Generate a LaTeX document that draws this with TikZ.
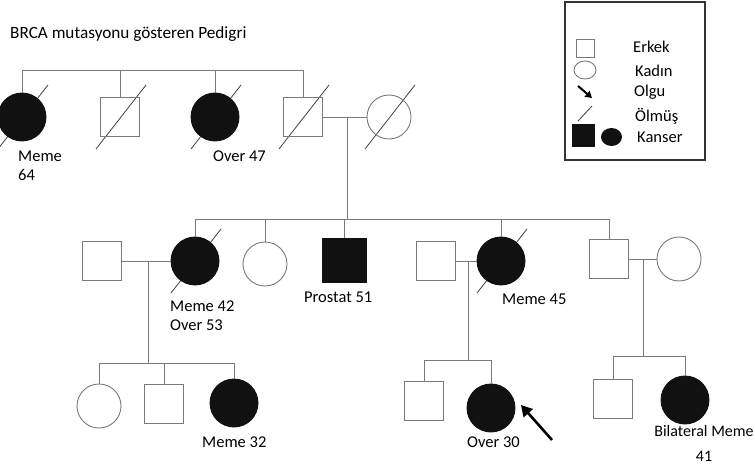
\documentclass[tikz,border=0pt]{standalone}
\usepackage{fontspec}
\setmainfont{Carlito}
\usetikzlibrary{arrows.meta,backgrounds,shapes.geometric}
\definecolor{lineg}{HTML}{7A7A7A}
\definecolor{fillk}{HTML}{111111}
\begin{document}
\begin{tikzpicture}[x=1pt,y=-1pt,
  male/.style={rectangle,draw=lineg,line width=0.9pt,minimum size=39pt,inner sep=0},
  female/.style={circle,draw=lineg,line width=0.9pt,minimum size=44pt,inner sep=0},
  affM/.style={male,fill=fillk,draw=fillk,minimum size=44pt},
  affF/.style={female,fill=fillk,draw=fillk,minimum size=48pt},
  conn/.style={draw=lineg,line width=0.9pt},
  dead/.style={draw=black!75,line width=0.8pt},
  lbl/.style={font=\fontsize{16.5}{19}\selectfont,inner sep=0,align=left},
]
\useasboundingbox (0,0) rectangle (755,468);
\newcommand\deadmark[1]{\draw[dead] ([shift={(-24,32)}]#1.center) -- ([shift={(26,-32)}]#1.center);}

% title
\node[lbl,anchor=west,font=\fontsize{17.2}{20}\selectfont] (title) at (10,34) {BRCA mutasyonu gösteren Pedigri};

% legend
\node[draw=black!80,line width=1.1pt,minimum width=140pt,minimum height=158pt,inner sep=0] (legend) at (635,81) {};
\node[male,minimum size=18pt] (lm) at (585,48) {};
\node[ellipse,draw=lineg,line width=0.9pt,minimum width=22pt,minimum height=18pt,inner sep=0] (lf) at (585,70) {};
\coordinate (laT) at (578,86);
\coordinate (laH) at (592,98);
\draw[line width=2pt,-{Triangle[length=6.5pt,width=7.5pt]}] (laT) -- (laH);
\coordinate (ld1) at (578,121);
\coordinate (ld2) at (592,106);
\draw[dead] (ld1) -- (ld2);
\node[rectangle,fill=fillk,minimum size=23pt,inner sep=0] (lam) at (583,136) {};
\node[ellipse,fill=fillk,minimum width=21pt,minimum height=18pt,inner sep=0] (laf) at (611.5,137) {};
\node[lbl,anchor=west] (t1) at (633,47) {Erkek};
\node[lbl,anchor=west] (t2) at (635,71) {Kadın};
\node[lbl,anchor=west] (t3) at (634,92) {Olgu};
\node[lbl,anchor=west] (t4) at (635,116) {Ölmüş};
\node[lbl,anchor=west] (t5) at (637,137) {Kanser};

% generation 1
\node[affF] (a1) at (22,117) {};
\node[male] (a2) at (120,117) {};
\node[affF] (a3) at (215,117) {};
\node[male] (a4) at (303,117) {};
\node[female] (a5) at (389,117) {};
\coordinate (s1) at (0,70);
\draw[conn] (a1.north) -- (a1.north |- s1) -- (a4.north |- s1) -- (a4.north);
\draw[conn] (a2.north) -- (a2.north |- s1);
\draw[conn] (a3.north) -- (a3.north |- s1);
\draw[conn] (a4.east) -- (a5.west);
\coordinate (m1) at (347,117);
\coordinate (s2) at (0,219);
\draw[conn] (m1) -- (m1 |- s2);

% generation 2
\node[male] (b1) at (102,261) {};
\node[affF] (b2) at (195,261) {};
\node[female] (b3) at (265,264) {};
\node[affM] (b4) at (344,260) {};
\node[male] (b5) at (436,261) {};
\node[affF] (b6) at (501,261) {};
\node[male] (b7) at (609,259) {};
\node[female] (b8) at (679,259) {};
\draw[conn] (b2.north) -- (b2.north |- s2) -- (b7.north |- s2) -- (b7.north);
\draw[conn] (b3.north) -- (b3.north |- s2);
\draw[conn] (b4.north) -- (b4.north |- s2);
\draw[conn] (b6.north) -- (b6.north |- s2);
\draw[conn] (b1.east) -- (b2.west);
\draw[conn] (b5.east) -- (b6.west);
\draw[conn] (b7.east) -- (b8.west);
\coordinate (m2) at (148,261);
\coordinate (m3) at (468,261);
\coordinate (m4) at (643,259);
\coordinate (s3) at (0,363);
\coordinate (s4) at (0,360);
\coordinate (s5) at (0,356);
\draw[conn] (m2) -- (m2 |- s3);
\draw[conn] (m3) -- (m3 |- s4);
\draw[conn] (m4) -- (m4 |- s5);

% generation 3
\node[female] (c1) at (99,406) {};
\node[male] (c2) at (164,404) {};
\node[affF] (c3) at (234,403) {};
\node[male] (c4) at (424,401) {};
\node[affF] (c5) at (491,408) {};
\node[male] (c6) at (613,399) {};
\node[affF] (c7) at (685,400) {};
\draw[conn] (c1.north) -- (c1.north |- s3) -- (c3.north |- s3) -- (c3.north);
\draw[conn] (c2.north) -- (c2.north |- s3);
\draw[conn] (c4.north) -- (c4.north |- s4) -- (c5.north |- s4) -- (c5.north);
\draw[conn] (c6.north) -- (c6.north |- s5) -- (c7.north |- s5) -- (c7.north);

% deceased marks
\begin{scope}[on background layer]
\deadmark{a1}
\deadmark{a2}
\deadmark{a3}
\deadmark{a4}
\deadmark{a5}
\deadmark{b2}
\deadmark{b6}
\end{scope}

% proband arrow
\coordinate (arT) at (552,440);
\coordinate (arH) at (521,405);
\draw[line width=2.6pt,-{Triangle[length=11pt,width=12pt]}] (arT) -- (arH);

% labels
\node[lbl,anchor=north west] (l1) at (18,151) {Meme\\64};
\node[lbl,anchor=west] (l2) at (213,156) {Over 47};
\node[lbl,anchor=north west] (l3) at (170,301) {Meme 42\\Over 53};
\node[lbl,anchor=west] (l4) at (304,297) {Prostat 51};
\node[lbl,anchor=west] (l5) at (502,299) {Meme 45};
\node[lbl,anchor=west] (l6) at (202,442) {Meme 32};
\node[lbl,anchor=west] (l7) at (467,442) {Over 30};
\node[lbl,anchor=north,align=center,font=\fontsize{16}{19}\selectfont] (l8) at (704,425) {Bilateral Meme\\[6pt]41};
\end{tikzpicture}
\end{document}
